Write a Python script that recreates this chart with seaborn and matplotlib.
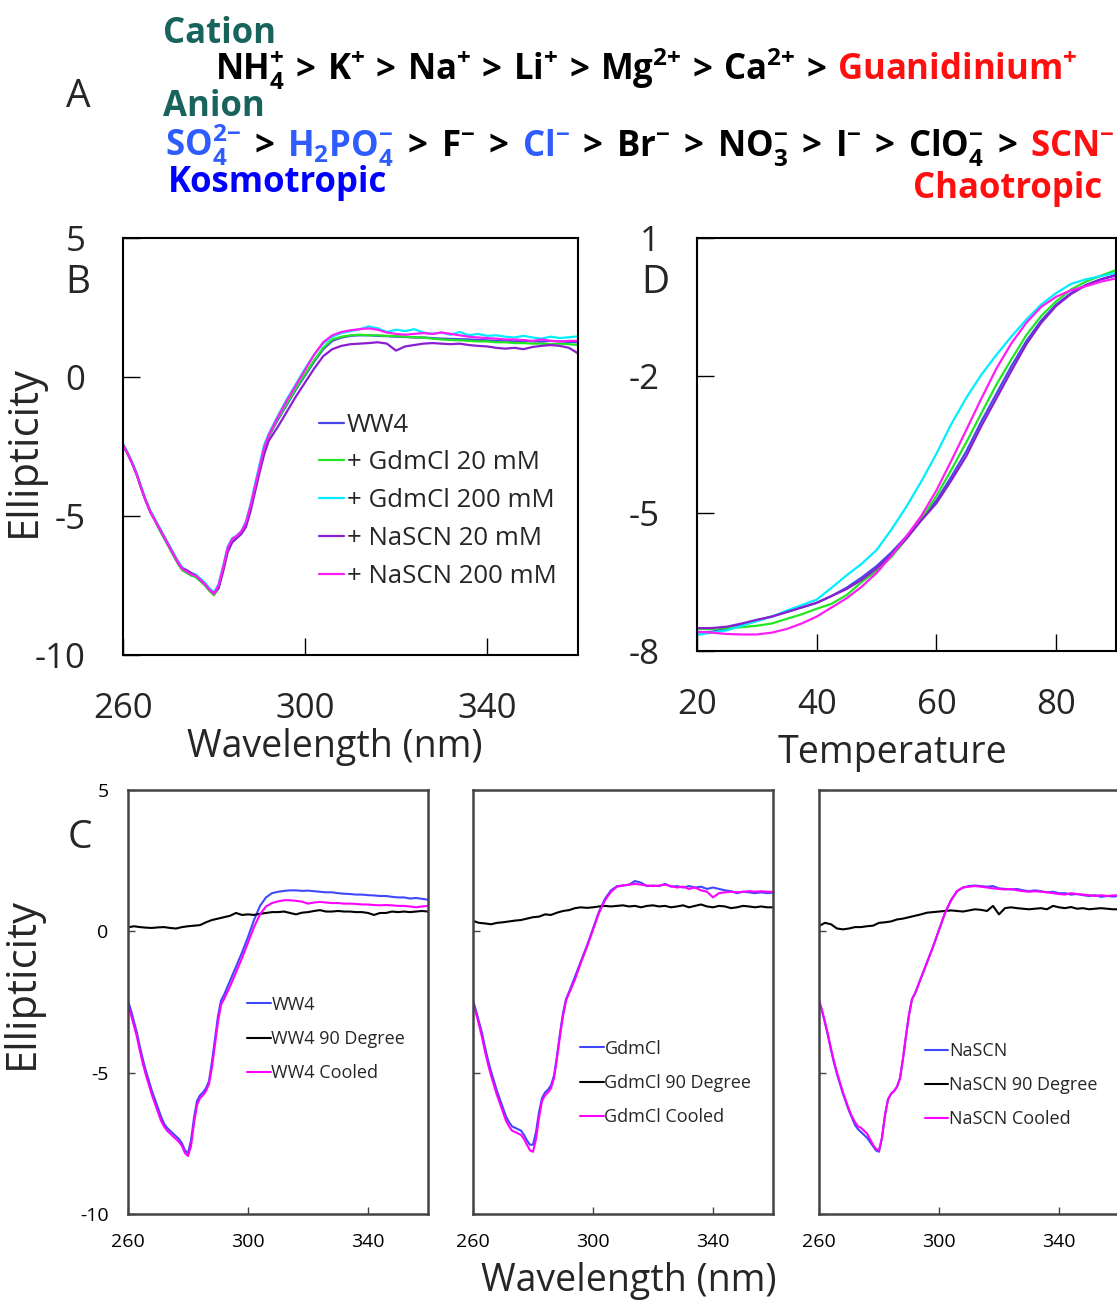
"""
Hofmeister series (A), CD spectra with salts (B), thermal melts (D)
and CD spectra before / after heating (C).
"""

## Import packages
import numpy as np
import pandas as pd
import matplotlib
matplotlib.use('Agg')
import matplotlib.pyplot as plt
import seaborn as sns
from matplotlib.offsetbox import TextArea, HPacker, AnchoredOffsetbox


## Data
# Wavelength grids (nm): 1 nm steps through the trough, 2 nm afterwards
wl = list(range(260, 293)) + list(range(294, 361, 2))
wl_flat = list(range(260, 361, 2))
# Temperature grid for the melting curves
temp = np.arange(20, 90.1, 2.5)

# Panel A - Hofmeister series, (ion, colour) in order
cations = [('NH$_4^{+}$', 'black'), ('K$^{+}$', 'black'), ('Na$^{+}$', 'black'), ('Li$^{+}$', 'black'),
           ('Mg$^{2{+}}$', 'black'), ('Ca$^{2{+}}$', 'black'), ('Guanidinium$^{+}$', '#ff1010')]
anions = [('SO$_4^{2{-}}$', '#2e5cff'), ('H$_2$PO$_4^{-}$', '#2e5cff'), ('F$^{-}$', 'black'),
          ('Cl$^{-}$', '#2e5cff'), ('Br$^{-}$', 'black'), ('NO$_3^{-}$', 'black'), ('I$^{-}$', 'black'),
          ('ClO$_4^{-}$', 'black'), ('SCN$^{-}$', '#ff1010')]

# Panel B - ellipticity of WW4 with added salts
b_labels = ['WW4', '+ GdmCl 20 mM', '+ GdmCl 200 mM', '+ NaSCN 20 mM', '+ NaSCN 200 mM']
b_colors = ['#4848e8', '#22e622', '#00eeff', '#8a1fd0', '#ff1cf5']
b_ww4 = [-2.45, -2.75, -3.1, -3.5, -4.0, -4.45, -4.85, -5.15, -5.45, -5.75, -6.05, -6.35, -6.65, -6.9, -7.0, -7.1, -7.15,
         -7.3, -7.45, -7.65, -7.8, -7.55, -6.9, -6.2, -5.85, -5.75, -5.6, -5.3, -4.7, -4.0, -3.3, -2.6, -2.15,
         -1.55, -1.0, -0.45, 0.05, 0.55, 1.0, 1.3, 1.42, 1.48, 1.5, 1.5, 1.48, 1.47, 1.45, 1.44, 1.42, 1.42,
         1.4, 1.38, 1.37, 1.36, 1.35, 1.33, 1.32, 1.3, 1.3, 1.28, 1.3, 1.28, 1.27, 1.3, 1.28, 1.26, 1.25]
b_gdm20 = [-2.45, -2.75, -3.1, -3.5, -4.0, -4.45, -4.85, -5.15, -5.5, -5.8, -6.1, -6.4, -6.7, -6.95, -7.05, -7.15, -7.2,
           -7.35, -7.5, -7.7, -7.85, -7.6, -6.95, -6.25, -5.9, -5.78, -5.62, -5.32, -4.72, -4.0, -3.3, -2.6, -2.15,
           -1.5, -0.95, -0.4, 0.1, 0.6, 1.05, 1.35, 1.45, 1.5, 1.52, 1.5, 1.5, 1.48, 1.47, 1.45, 1.43, 1.42,
           1.38, 1.35, 1.33, 1.32, 1.3, 1.28, 1.28, 1.25, 1.25, 1.22, 1.22, 1.2, 1.2, 1.18, 1.2, 1.18, 1.15]
b_gdm200 = [-2.4, -2.7, -3.05, -3.45, -3.95, -4.4, -4.8, -5.1, -5.4, -5.7, -6.0, -6.3, -6.6, -6.85, -6.95, -7.05, -7.1,
            -7.25, -7.4, -7.6, -7.75, -7.45, -6.8, -6.1, -5.8, -5.7, -5.55, -5.2, -4.6, -3.85, -3.15, -2.45, -2.05,
            -1.4, -0.8, -0.25, 0.3, 0.8, 1.2, 1.45, 1.58, 1.65, 1.72, 1.82, 1.75, 1.62, 1.7, 1.65, 1.72, 1.6,
            1.55, 1.6, 1.52, 1.62, 1.5, 1.55, 1.48, 1.5, 1.45, 1.42, 1.48, 1.42, 1.38, 1.45, 1.4, 1.43, 1.46]
b_scn20 = [-2.45, -2.75, -3.1, -3.5, -4.0, -4.45, -4.85, -5.15, -5.45, -5.75, -6.05, -6.35, -6.65, -6.88, -6.95, -7.05, -7.15,
           -7.3, -7.45, -7.65, -7.78, -7.6, -7.0, -6.3, -5.95, -5.8, -5.65, -5.4, -4.85, -4.15, -3.45, -2.8, -2.3,
           -1.8, -1.25, -0.7, -0.2, 0.3, 0.75, 1.0, 1.12, 1.18, 1.2, 1.22, 1.25, 1.2, 0.95, 1.1, 1.15, 1.2,
           1.22, 1.2, 1.18, 1.2, 1.15, 1.12, 1.1, 1.05, 1.02, 1.05, 1.0, 1.08, 1.12, 1.15, 1.12, 1.05, 0.85]
b_scn200 = [-2.45, -2.75, -3.1, -3.5, -4.0, -4.45, -4.85, -5.15, -5.45, -5.75, -6.05, -6.35, -6.65, -6.9, -7.0, -7.1, -7.15,
            -7.3, -7.45, -7.65, -7.8, -7.5, -6.85, -6.15, -5.82, -5.72, -5.55, -5.25, -4.65, -3.95, -3.25, -2.55, -2.1,
            -1.45, -0.85, -0.3, 0.25, 0.8, 1.25, 1.5, 1.62, 1.68, 1.72, 1.75, 1.7, 1.6, 1.55, 1.52, 1.55, 1.58,
            1.55, 1.6, 1.55, 1.5, 1.45, 1.42, 1.4, 1.38, 1.35, 1.35, 1.33, 1.3, 1.35, 1.3, 1.28, 1.3, 1.3]

# Panel D - thermal melting curves
d_ww4 = [-7.6, -7.58, -7.52, -7.42, -7.33, -7.25, -7.15, -7.05, -6.95, -6.8, -6.62, -6.4, -6.15, -5.85, -5.5,
         -5.1, -4.72, -4.2, -3.65, -3.0, -2.4, -1.8, -1.25, -0.8, -0.45, -0.2, -0.02, 0.1, 0.19]
d_gdm20 = [-7.52, -7.52, -7.5, -7.48, -7.45, -7.4, -7.3, -7.2, -7.08, -6.97, -6.78, -6.5, -6.25, -5.95, -5.55,
           -5.12, -4.62, -4.05, -3.45, -2.82, -2.2, -1.65, -1.12, -0.7, -0.38, -0.12, 0.05, 0.18, 0.3]
d_gdm200 = [-7.65, -7.6, -7.55, -7.45, -7.35, -7.25, -7.12, -7.0, -6.88, -6.62, -6.35, -6.1, -5.8, -5.35, -4.85,
            -4.3, -3.7, -3.05, -2.48, -1.98, -1.55, -1.15, -0.78, -0.45, -0.2, 0.0, 0.1, 0.17, 0.24]
d_scn20 = [-7.5, -7.5, -7.47, -7.4, -7.32, -7.25, -7.15, -7.05, -6.95, -6.8, -6.65, -6.45, -6.2, -5.9, -5.55,
           -5.15, -4.78, -4.28, -3.75, -3.1, -2.5, -1.9, -1.32, -0.85, -0.48, -0.22, -0.03, 0.1, 0.19]
d_scn200 = [-7.58, -7.6, -7.63, -7.64, -7.64, -7.6, -7.52, -7.4, -7.25, -7.05, -6.85, -6.6, -6.3, -5.92, -5.5,
            -5.05, -4.5, -3.85, -3.18, -2.5, -1.85, -1.3, -0.85, -0.5, -0.28, -0.14, -0.05, 0.05, 0.12]

# Panel C - native, at 90 degrees, and cooled back
c_colors = ['#3f48ff', '#000000', '#ff00ff']
c1_native = [-2.45, -2.8, -3.2, -3.6, -4.1, -4.55, -4.95, -5.3, -5.65, -5.95, -6.25, -6.55, -6.8, -6.95, -7.05, -7.15, -7.25,
             -7.35, -7.5, -7.75, -7.85, -7.4, -6.6, -6.0, -5.8, -5.7, -5.55, -5.3, -4.6, -3.8, -3.0, -2.45, -2.25,
             -1.75, -1.25, -0.75, -0.2, 0.4, 0.9, 1.2, 1.35, 1.4, 1.43, 1.45, 1.45, 1.43, 1.44, 1.42, 1.4, 1.38,
             1.38, 1.35, 1.33, 1.32, 1.3, 1.3, 1.28, 1.27, 1.25, 1.25, 1.22, 1.2, 1.2, 1.16, 1.18, 1.15, 1.12]
c1_hot = [0.14, 0.18, 0.15, 0.13, 0.12, 0.14, 0.15, 0.12, 0.1, 0.15, 0.18, 0.2, 0.22, 0.32, 0.4, 0.45, 0.5,
          0.55, 0.65, 0.58, 0.6, 0.58, 0.62, 0.65, 0.68, 0.68, 0.7, 0.65, 0.6, 0.66, 0.68, 0.72, 0.75, 0.7,
          0.7, 0.72, 0.7, 0.7, 0.68, 0.68, 0.65, 0.58, 0.65, 0.65, 0.7, 0.68, 0.7, 0.68, 0.7, 0.72, 0.7]
c1_cooled = [-2.6, -2.95, -3.35, -3.75, -4.25, -4.7, -5.1, -5.45, -5.8, -6.1, -6.4, -6.7, -6.9, -7.05, -7.15, -7.25, -7.35,
             -7.45, -7.6, -7.85, -7.95, -7.6, -6.8, -6.15, -5.9, -5.8, -5.65, -5.4, -4.8, -4.0, -3.2, -2.6, -2.4,
             -1.95, -1.45, -0.95, -0.4, 0.15, 0.6, 0.88, 1.0, 1.06, 1.1, 1.1, 1.08, 1.05, 0.98, 1.02, 1.04, 1.02,
             1.0, 1.0, 0.98, 0.98, 0.97, 0.95, 0.95, 0.93, 0.92, 0.93, 0.92, 0.9, 0.9, 0.88, 0.85, 0.88, 0.9]

c2_native = [-2.45, -2.8, -3.2, -3.6, -4.1, -4.55, -4.95, -5.3, -5.65, -5.95, -6.25, -6.55, -6.75, -6.9, -6.95, -7.0, -7.05,
             -7.2, -7.4, -7.55, -7.55, -7.1, -6.4, -5.9, -5.7, -5.6, -5.45, -5.1, -4.4, -3.6, -2.9, -2.4, -2.15,
             -1.6, -1.05, -0.5, 0.1, 0.7, 1.15, 1.45, 1.6, 1.62, 1.65, 1.78, 1.72, 1.6, 1.62, 1.6, 1.68, 1.58,
             1.6, 1.55, 1.6, 1.55, 1.58, 1.5, 1.55, 1.5, 1.45, 1.42, 1.35, 1.4, 1.38, 1.35, 1.38, 1.35, 1.37]
c2_hot = [0.37, 0.3, 0.28, 0.25, 0.3, 0.32, 0.35, 0.38, 0.4, 0.45, 0.5, 0.52, 0.6, 0.58, 0.66, 0.72, 0.75,
          0.82, 0.85, 0.83, 0.85, 0.88, 0.9, 0.88, 0.9, 0.92, 0.88, 0.9, 0.85, 0.9, 0.92, 0.88, 0.9, 0.85,
          0.88, 0.92, 0.85, 0.9, 0.95, 0.88, 0.85, 0.9, 0.88, 0.82, 0.85, 0.9, 0.88, 0.85, 0.88, 0.85, 0.85]
c2_cooled = [-2.55, -2.9, -3.3, -3.75, -4.25, -4.7, -5.1, -5.45, -5.8, -6.1, -6.4, -6.7, -6.9, -7.05, -7.1, -7.15, -7.2,
             -7.35, -7.55, -7.75, -7.8, -7.35, -6.6, -6.0, -5.8, -5.7, -5.55, -5.2, -4.5, -3.7, -3.0, -2.45, -2.2,
             -1.7, -1.1, -0.55, 0.05, 0.65, 1.1, 1.4, 1.58, 1.62, 1.65, 1.68, 1.65, 1.62, 1.6, 1.62, 1.65, 1.6,
             1.55, 1.58, 1.5, 1.55, 1.45, 1.4, 1.2, 1.35, 1.38, 1.4, 1.38, 1.4, 1.42, 1.4, 1.42, 1.4, 1.4]

c3_native = [-2.45, -2.8, -3.25, -3.7, -4.2, -4.65, -5.05, -5.4, -5.75, -6.05, -6.35, -6.6, -6.85, -7.0, -7.1, -7.2, -7.3,
             -7.45, -7.6, -7.75, -7.8, -7.3, -6.5, -5.95, -5.75, -5.65, -5.5, -5.2, -4.5, -3.7, -2.95, -2.4, -2.2,
             -1.65, -1.1, -0.55, 0.05, 0.65, 1.1, 1.42, 1.55, 1.6, 1.62, 1.6, 1.58, 1.6, 1.52, 1.5, 1.48, 1.5,
             1.45, 1.42, 1.45, 1.42, 1.38, 1.4, 1.35, 1.35, 1.3, 1.32, 1.28, 1.25, 1.28, 1.22, 1.25, 1.23, 1.25]
c3_hot = [0.19, 0.3, 0.25, 0.1, 0.07, 0.1, 0.15, 0.15, 0.18, 0.2, 0.3, 0.32, 0.35, 0.42, 0.45, 0.5, 0.55,
          0.6, 0.66, 0.68, 0.7, 0.72, 0.74, 0.72, 0.7, 0.74, 0.78, 0.76, 0.72, 0.9, 0.6, 0.82, 0.85, 0.82,
          0.8, 0.78, 0.8, 0.82, 0.78, 0.9, 0.85, 0.82, 0.86, 0.8, 0.82, 0.78, 0.8, 0.82, 0.8, 0.78, 0.78]
c3_cooled = [-2.45, -2.8, -3.2, -3.65, -4.15, -4.6, -5.0, -5.35, -5.7, -6.0, -6.3, -6.55, -6.75, -6.9, -6.95, -7.05, -7.15,
             -7.35, -7.55, -7.7, -7.75, -7.3, -6.5, -5.95, -5.75, -5.65, -5.5, -5.2, -4.5, -3.7, -2.95, -2.4, -2.2,
             -1.65, -1.1, -0.55, 0.05, 0.65, 1.1, 1.42, 1.55, 1.58, 1.6, 1.58, 1.55, 1.52, 1.5, 1.48, 1.5, 1.45,
             1.42, 1.4, 1.42, 1.4, 1.38, 1.35, 1.32, 1.3, 1.35, 1.32, 1.3, 1.28, 1.25, 1.28, 1.25, 1.27, 1.28]

c_names = ['WW4', 'GdmCl', 'NaSCN']


## Helper: long dataframe from a few series sharing one x grid
def long_df(x, series):
    frames = [pd.DataFrame({'x': x, 'y': vals, 'sample': name}) for name, vals in series.items()]
    return pd.concat(frames, ignore_index=True)


## Figure setup
sns.set_theme(style='white')
plt.rcParams['font.family'] = ['Open Sans', 'DejaVu Sans']
plt.rcParams['mathtext.default'] = 'regular'
plt.rcParams['axes.unicode_minus'] = False

W, H = 1117, 1300
fig = plt.figure(figsize=(W / 100, H / 100), dpi=100)


def px_axes(left, top, right, bottom):
    # axes from pixel box of the reference
    return fig.add_axes([left / W, 1 - bottom / H, (right - left) / W, (bottom - top) / H])


def style_axes(ax, lw, color, size, pad, length):
    for s in ax.spines.values():
        s.set_visible(True)
        s.set_color(color)
        s.set_linewidth(lw)
    ax.tick_params(direction='in', length=length, width=1.0, color=color,
                   labelsize=size, pad=pad, left=True, bottom=True)


## PANEL A - Hofmeister series
teal = '#18645c'
bold = dict(fontsize=25, fontweight='bold')
fig.text(163 / W, 1 - 43 / H, 'Cation', color=teal, va='baseline', **bold)
fig.text(163 / W, 1 - 116 / H, 'Anion', color=teal, va='baseline', **bold)
fig.text(168 / W, 1 - 192 / H, 'Kosmotropic', color='#0000ff', va='baseline', **bold)
fig.text(1102 / W, 1 - 198 / H, 'Chaotropic', color='#ff1010', va='baseline', ha='right', **bold)
fig.text(78 / W, 1 - 97 / H, 'A', fontsize=28, ha='center', va='center')


def series_line(ions, x, y, sep):
    # ions joined by black '>' signs, each ion in its own colour
    boxes = []
    for k, (s, c) in enumerate(ions):
        if k > 0:
            boxes.append(TextArea('>', textprops=dict(color='black', **bold)))
        boxes.append(TextArea(s, textprops=dict(color=c, **bold)))
    row = HPacker(children=boxes, align='baseline', pad=0, sep=sep)
    box = AnchoredOffsetbox(loc='lower left', child=row, pad=0, borderpad=0, frameon=False,
                            bbox_to_anchor=(x, y), bbox_transform=fig.transFigure)
    fig.add_artist(box)


series_line(cations, 215 / W, 1 - 92 / H, 7.9)
series_line(anions, 165 / W, 1 - 168 / H, 9.6)


## PANEL B
axB = px_axes(123, 238, 578, 655)
df_b = long_df(wl, dict(zip(b_labels, [b_ww4, b_gdm20, b_gdm200, b_scn20, b_scn200])))
sns.lineplot(data=df_b, x='x', y='y', hue='sample', hue_order=b_labels, palette=b_colors,
             lw=1.6, estimator=None, ax=axB)
axB.set_xlim(260, 360)
axB.set_ylim(-10, 5)
axB.set_xticks([260, 300, 340])
axB.set_yticks([5, 0, -5, -10])
style_axes(axB, 1.5, 'black', 25, 27, 12)
axB.set_xlabel('Wavelength (nm)', fontsize=27)
axB.xaxis.set_label_coords(0.466, -0.175)
axB.set_ylabel('Ellipticity', fontsize=30)
axB.yaxis.set_label_coords(-0.172, 0.49)
h, l = axB.get_legend_handles_labels()
axB.legend(h, l, loc='center left', bbox_to_anchor=(0.43, 0.37), frameon=False, fontsize=18.5,
           handlelength=1.0, handletextpad=0.1, labelspacing=0.5, borderpad=0, borderaxespad=0)
fig.text(78 / W, 1 - 283 / H, 'B', fontsize=28, ha='center', va='center')


## PANEL D
axD = px_axes(697, 238, 1116, 651)
df_d = long_df(temp, dict(zip(b_labels, [d_ww4, d_gdm20, d_gdm200, d_scn20, d_scn200])))
sns.lineplot(data=df_d, x='x', y='y', hue='sample', hue_order=b_labels, palette=b_colors,
             lw=1.6, estimator=None, legend=False, ax=axD)
axD.set_xlim(20, 90)
axD.set_ylim(-8, 1)
axD.set_xticks([20, 40, 60, 80])
axD.set_yticks([1, -2, -5, -8])
style_axes(axD, 1.5, 'black', 25, 27, 12)
axD.set_xlabel('Temperature', fontsize=27)
axD.xaxis.set_label_coords(0.467, -0.2)
axD.set_ylabel('')
fig.text(655 / W, 1 - 283 / H, 'D', fontsize=28, ha='center', va='center')


## PANEL C - three small panels
c_native = [c1_native, c2_native, c3_native]
c_hot = [c1_hot, c2_hot, c3_hot]
c_cooled = [c1_cooled, c2_cooled, c3_cooled]
c_left = [128, 473, 819]
c_leg = [(0.397, 0.413), (0.357, 0.309), (0.353, 0.304)]

for i in range(3):
    ax = px_axes(c_left[i], 790, c_left[i] + 300, 1214)
    name = c_names[i]
    labels = [name, name + ' 90 Degree', name + ' Cooled']
    df_n = long_df(wl, {labels[0]: c_native[i]})
    df_h = long_df(wl_flat, {labels[1]: c_hot[i]})
    df_c = long_df(wl, {labels[2]: c_cooled[i]})
    sns.lineplot(data=df_n, x='x', y='y', color=c_colors[0], lw=1.5, label=labels[0], estimator=None, ax=ax)
    sns.lineplot(data=df_h, x='x', y='y', color=c_colors[1], lw=1.5, label=labels[1], estimator=None, ax=ax)
    sns.lineplot(data=df_c, x='x', y='y', color=c_colors[2], lw=1.5, label=labels[2], estimator=None, ax=ax)
    ax.set_xlim(260, 360)
    ax.set_ylim(-10, 5)
    ax.set_xticks([260, 300, 340])
    ax.set_yticks([5, 0, -5, -10])
    style_axes(ax, 1.8, '#444444', 14, 14, 5)
    ax.tick_params(labelcolor='black')
    ax.set_xlabel('')
    ax.set_ylabel('')
    if i > 0:
        ax.tick_params(labelleft=False)
    else:
        ax.set_ylabel('Ellipticity', fontsize=30)
        ax.yaxis.set_label_coords(-0.283, 0.545)
    h, l = ax.get_legend_handles_labels()
    ax.legend(h, l, loc='center left', bbox_to_anchor=c_leg[i], frameon=False, fontsize=13,
              handlelength=1.3, handletextpad=0.05, labelspacing=0.9, borderpad=0, borderaxespad=0)

fig.text(629 / W, 1 - 1262 / H, 'Wavelength (nm)', fontsize=27, ha='center', va='top')
fig.text(80 / W, 1 - 838 / H, 'C', fontsize=28, ha='center', va='center')


# Save figure
plt.savefig('out.png', dpi=100)
